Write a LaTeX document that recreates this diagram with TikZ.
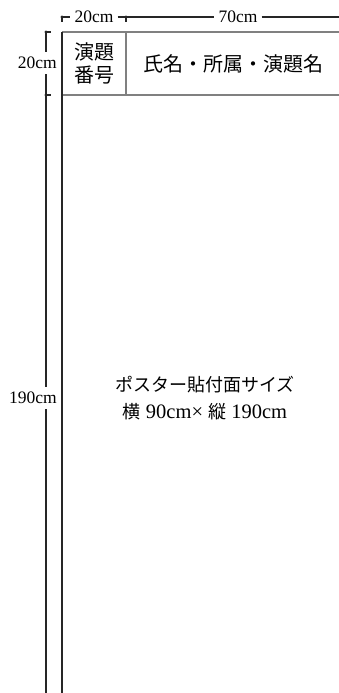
\documentclass[tikz,border=0pt]{standalone}
\usepackage{fontspec}
\setmainfont{Liberation Serif}
\newfontfamily\jpfont{Noto Sans CJK JP}
\usetikzlibrary{calc}

\begin{document}
\begin{tikzpicture}
[x=1pt,y=-1pt,
  dimline/.style={line width=1.3pt,black!85},
  dimdot/.style={circle,fill=black!85,inner sep=0pt,minimum size=3.4pt},
  boxline/.style={line width=1.4pt,black!50},
  posterline/.style={line width=1.5pt,black!85},
  dimlabel/.style={inner xsep=4pt,inner ysep=5pt,font=\fontsize{17.5}{20}\selectfont},
  headtext/.style={align=center,font=\jpfont\fontsize{20}{23}\selectfont},
  sizetext/.style={align=center,font=\fontsize{20.5}{27}\selectfont}]
\clip (0,0) rectangle (339,693);
%% corners of the poster
\foreach \pname/\x/\y in {tl/62/32, tm/126/32, tr/350/32,
  hl/62/95, hm/126/95, hr/350/95, bl/62/700}
{
  \coordinate (\pname) at (\x,\y);
}
%% ends of the dimension lines
\foreach \pname/\x/\y in {a1/62/17, a2/126/17, a3/350/17,
  b1/46/32, b2/46/95, b3/46/700}
{
  \coordinate (\pname) at (\x,\y);
}
%% dimension labels
\node (w20) at (94,17) [dimlabel] {20cm};
\node (w70) at (238,17) [dimlabel] {70cm};
\node (h20) at (59,63) [dimlabel,anchor=east,inner xsep=2pt] {20cm};
\node (h190) at (59,398) [dimlabel,anchor=east,inner xsep=2pt] {190cm};
%% dimension lines
\draw[dimline] (a1) -- (w20.west) (w20.east) -- (a2) -- (w70.west)
  (w70.east) -- (a3);
\draw[dimline] (b1) -- (b1 |- h20.north) (b1 |- h20.south) -- (b2)
  -- (b2 |- h190.north) (b2 |- h190.south) -- (b3);
\foreach \pname in {a1, a2}
{
  \draw[dimline] (\pname) -- ++(0,5);
  \node[dimdot] at (\pname) {};
}
\foreach \pname in {b1, b2}
{
  \draw[dimline] (\pname) -- ++(5,0);
  \node[dimdot] at (\pname) {};
}
%% header box
\draw[boxline] (tl) -- (tr) (hl) -- (hr) (tm) -- (hm);
\draw[posterline] (tl) -- (bl);
%% texts
\node (num) at (94,63.5) [headtext] {演題\\番号};
\node (name) at (233,64) [headtext] {氏名・所属・演題名};
\node (size) at (205,398) [sizetext]
  {{\jpfont\fontsize{18}{27}\selectfont ポスター貼付面サイズ}\\
   {\jpfont\fontsize{18}{27}\selectfont 横} 90cm× {\jpfont\fontsize{18}{27}\selectfont 縦} 190cm};
\end{tikzpicture}
\end{document}
